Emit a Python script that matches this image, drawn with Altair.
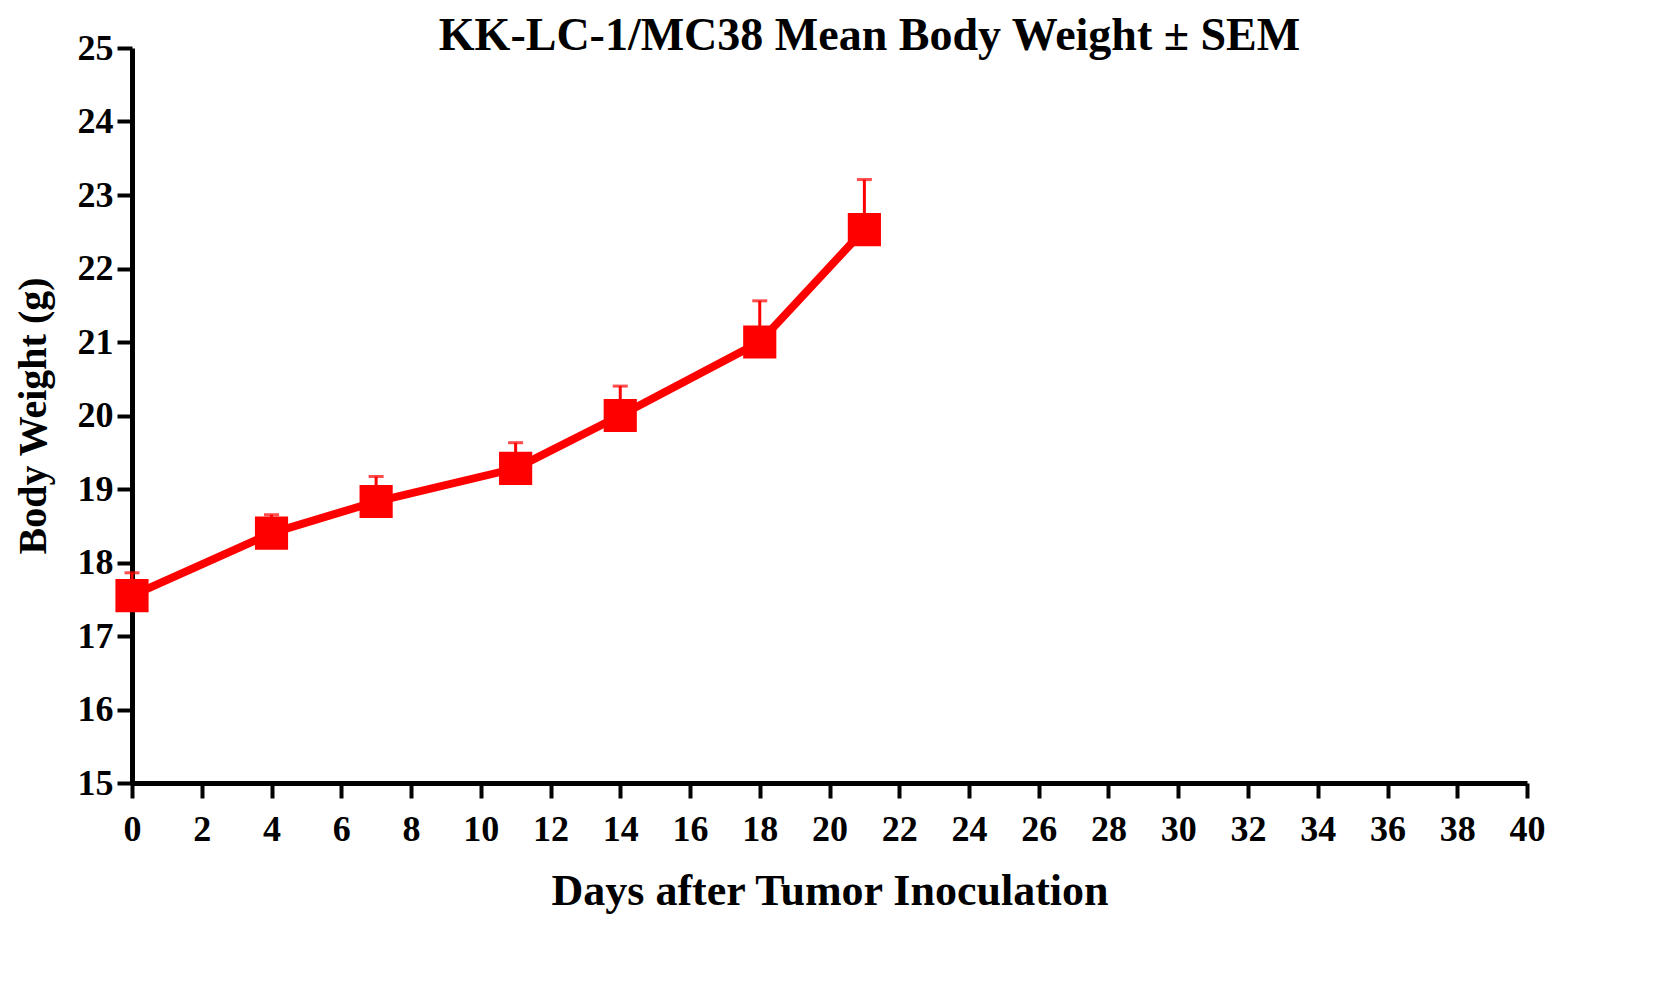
import altair as alt
import pandas as pd

days = [0, 4, 7, 11, 14, 18, 21]
weight = [17.55, 18.4, 18.83, 19.28, 20.0, 21.0, 22.53]
sem = [0.31, 0.25, 0.34, 0.35, 0.4, 0.56, 0.68]

df = pd.DataFrame({"day": days, "w": weight, "sem": sem})
df["top"] = df["w"] + df["sem"]

font = "Liberation Serif"
xs = alt.Scale(domain=[0, 40], nice=False)
ys = alt.Scale(domain=[15, 25], nice=False, zero=False)

base = alt.Chart(df)

xaxis = alt.Axis(values=list(range(0, 41)), title="Days after Tumor Inoculation",
                 labelExpr="datum.value % 2 ? '' : datum.label",
                 labelFont=font, labelFontSize=36, labelFontWeight="bold", labelColor="black",
                 titleFont=font, titleFontSize=44, titleFontWeight="bold", titleColor="black",
                 titlePadding=22, labelPadding=14, labelFlush=False, labelOverlap=False,
                 tickSize={"condition": {"test": "datum.value % 2 == 1", "value": 8}, "value": 15},
                 tickWidth=4, tickColor="black",
                 domainWidth=5, domainColor="black", grid=False)
yaxis = alt.Axis(values=list(range(15, 26)), title="Body Weight (g)", format="d",
                 labelFont=font, labelFontSize=36, labelFontWeight="bold", labelColor="black",
                 titleFont=font, titleFontSize=40, titleFontWeight="bold", titleColor="black",
                 titlePadding=24, labelPadding=4, tickSize=15, tickWidth=4, tickColor="black",
                 domainWidth=5, domainColor="black", grid=False)

err = base.mark_rule(color="red", strokeWidth=3).encode(
    x=alt.X("day:Q", scale=xs, axis=xaxis),
    y=alt.Y("w:Q", scale=ys, axis=yaxis),
    y2="top:Q",
)
cap = base.mark_tick(color="red", thickness=3, size=15, orient="horizontal").encode(
    x=alt.X("day:Q", scale=xs), y=alt.Y("top:Q", scale=ys)
)
line = base.mark_line(color="red", strokeWidth=8).encode(
    x=alt.X("day:Q", scale=xs), y=alt.Y("w:Q", scale=ys)
)
pts = base.mark_square(color="red", opacity=1, size=1100).encode(
    x=alt.X("day:Q", scale=xs), y=alt.Y("w:Q", scale=ys)
)

chart = alt.layer(err, cap, line, pts).properties(
    width=1395, height=735,
    title=alt.Title("KK-LC-1/MC38 Mean Body Weight ± SEM", font=font, fontSize=46,
                    fontWeight="bold", color="black", anchor="middle", offset=-30, dx=40),
).configure_view(stroke=None)

chart.save("out.html", embed_options={"renderer": "svg", "actions": False})
